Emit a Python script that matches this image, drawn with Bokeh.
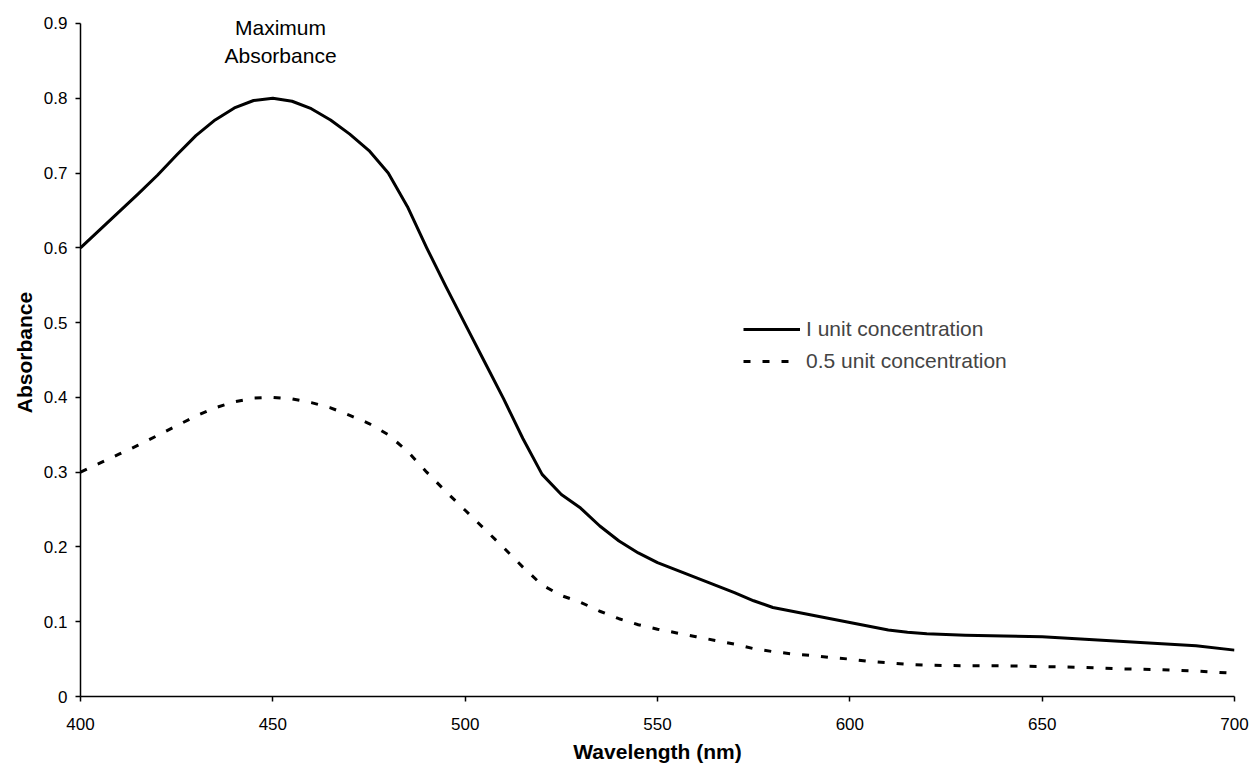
from bokeh.plotting import figure
from bokeh.models import Range1d, FixedTicker, Legend, LegendItem, Label
from bokeh.embed import file_html
from bokeh.resources import INLINE

# Absorption spectra of the same dye at two concentrations
wavelength = [400, 405, 410, 415, 420, 425, 430, 435, 440, 445, 450, 455, 460, 465,
              470, 475, 480, 485, 490, 495, 500, 505, 510, 515, 520, 525, 530, 535,
              540, 545, 550, 555, 560, 565, 570, 575, 580, 585, 590, 595, 600, 605,
              610, 615, 620, 630, 640, 650, 660, 670, 680, 690, 700]
absorb_full = [0.600, 0.624, 0.648, 0.672, 0.697, 0.724, 0.750, 0.771, 0.787, 0.797,
               0.800, 0.796, 0.786, 0.771, 0.752, 0.730, 0.700, 0.655, 0.600, 0.548,
               0.498, 0.448, 0.398, 0.345, 0.297, 0.270, 0.252, 0.228, 0.208, 0.192,
               0.179, 0.169, 0.159, 0.149, 0.139, 0.128, 0.119, 0.114, 0.109, 0.104,
               0.099, 0.094, 0.089, 0.086, 0.084, 0.082, 0.081, 0.080, 0.077, 0.074,
               0.071, 0.068, 0.062]
absorb_half = [0.300, 0.312, 0.324, 0.336, 0.349, 0.362, 0.375, 0.386, 0.394, 0.399,
               0.400, 0.398, 0.393, 0.386, 0.376, 0.365, 0.350, 0.328, 0.300, 0.274,
               0.249, 0.224, 0.199, 0.173, 0.149, 0.135, 0.126, 0.114, 0.104, 0.096,
               0.090, 0.085, 0.080, 0.075, 0.070, 0.064, 0.060, 0.057, 0.055, 0.052,
               0.050, 0.047, 0.045, 0.043, 0.042, 0.041, 0.041, 0.040, 0.039, 0.037,
               0.036, 0.034, 0.031]

x_ticks = [400, 450, 500, 550, 600, 650, 700]
y_ticks = [0.0, 0.1, 0.2, 0.3, 0.4, 0.5, 0.6, 0.7, 0.8, 0.9]
y_tick_labels = ["0", "0.1", "0.2", "0.3", "0.4", "0.5", "0.6", "0.7", "0.8", "0.9"]

FONT = "Liberation Sans"

# a little headroom above 0.9 keeps the annotation inside the frame;
# the y axis line itself stops at 0.9
p = figure(width=1250, height=765, output_backend="svg", toolbar_location=None,
           x_range=Range1d(400, 700), y_range=Range1d(0, 0.92),
           min_border_left=80, min_border_right=16, min_border_top=8,
           min_border_bottom=68)
p.outline_line_color = None
p.grid.visible = False
p.background_fill_color = "white"
p.border_fill_color = "white"

r1 = p.line(wavelength, absorb_full, line_color="black", line_width=3,
            line_join="round")
r2 = p.line(wavelength, absorb_half, line_color="black", line_width=3,
            line_dash="7 12")

for ax in (p.xaxis[0], p.yaxis[0]):
    ax.major_tick_in = 0
    ax.major_tick_out = 5
    ax.minor_tick_line_color = None
    ax.axis_line_color = "black"
    ax.axis_line_width = 1.5
    ax.major_tick_line_width = 1.5
    ax.major_label_text_font = FONT
    ax.major_label_text_font_size = "17px"
    ax.major_label_text_color = "black"
    ax.axis_label_text_font = FONT
    ax.axis_label_text_font_style = "bold"
    ax.axis_label_text_font_size = "21px"
    ax.axis_label_text_color = "black"

p.xaxis.ticker = FixedTicker(ticks=x_ticks)
p.yaxis.ticker = FixedTicker(ticks=y_ticks)
p.yaxis.bounds = (0, 0.9)
p.yaxis.major_label_overrides = {t: s for t, s in zip(y_ticks, y_tick_labels)}
p.xaxis.axis_label = "Wavelength (nm)"
p.yaxis.axis_label = "Absorbance"
p.xaxis.major_label_standoff = 16
p.xaxis.axis_label_standoff = 7
p.yaxis.major_label_standoff = 8
p.yaxis.axis_label_standoff = 5

legend = Legend(items=[LegendItem(label="I unit concentration", renderers=[r1]),
                       LegendItem(label="0.5 unit concentration", renderers=[r2])],
                location=(663, 323), border_line_color=None,
                background_fill_alpha=0, label_text_font=FONT,
                label_text_font_size="21px", glyph_width=57, glyph_height=24,
                label_height=24, label_standoff=6, spacing=8, padding=0, margin=0)
p.add_layout(legend, "center")

for txt, yv in (("Maximum", 0.894), ("Absorbance", 0.857)):
    p.add_layout(Label(x=452, y=yv, text=txt, text_align="center",
                       text_baseline="middle", text_font=FONT,
                       text_font_size="21px", text_color="black"))

open("out.html", "w").write(file_html(p, INLINE))
